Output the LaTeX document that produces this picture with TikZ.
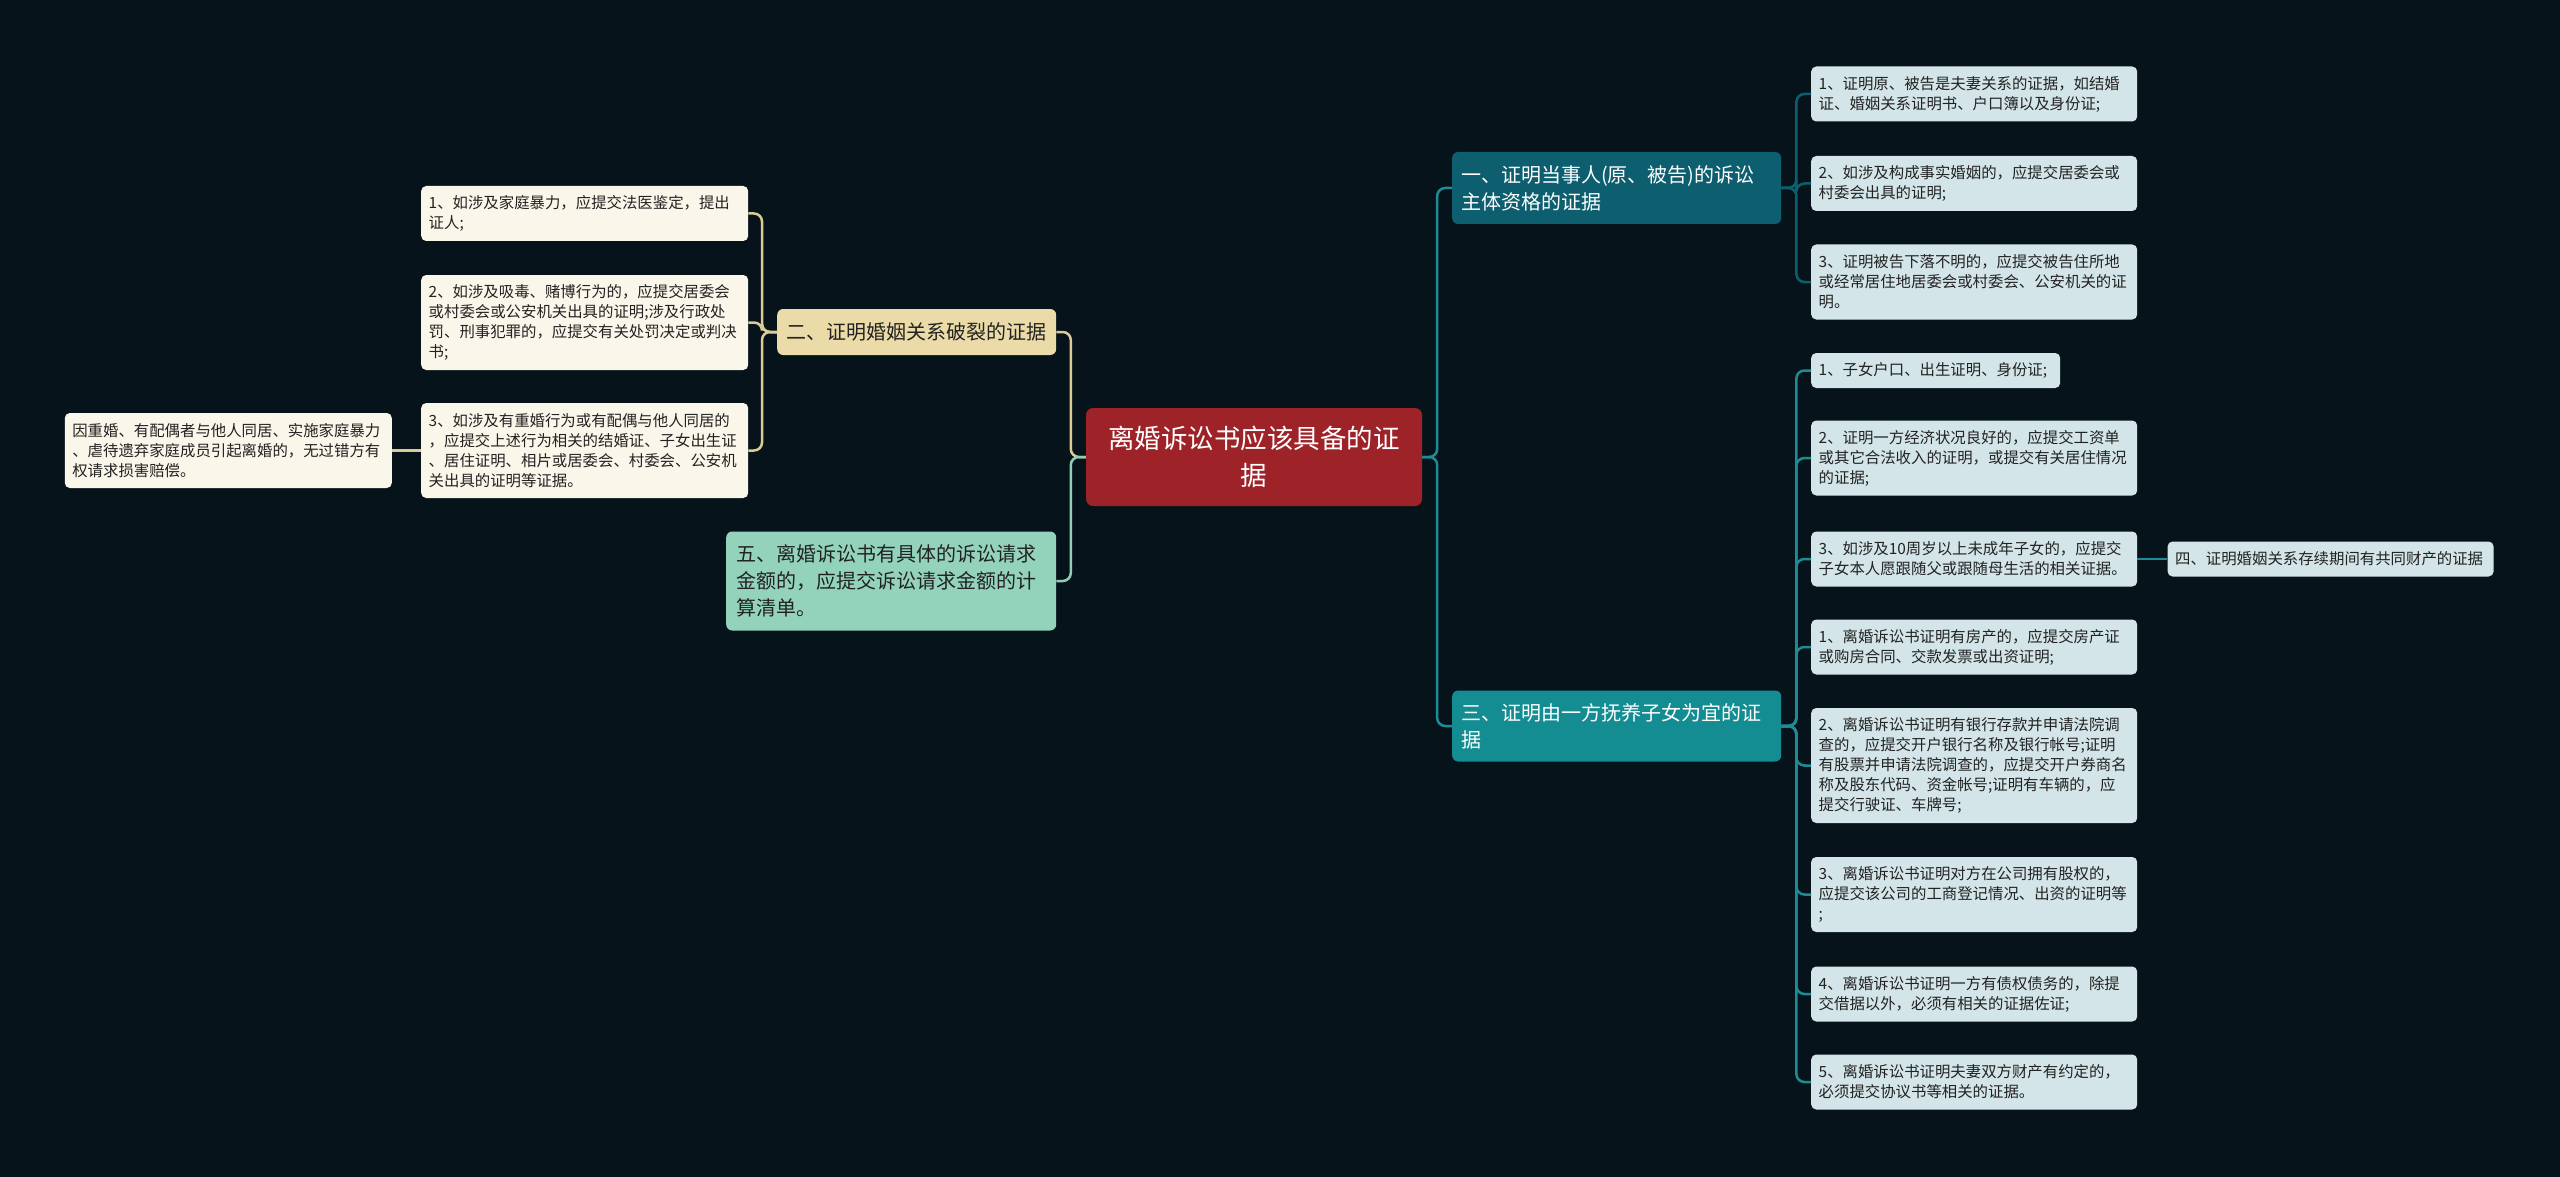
\documentclass[tikz,border=0pt]{standalone}
\usepackage{fontspec}
\setmainfont{Noto Sans CJK SC}
\usetikzlibrary{positioning}
\definecolor{dvbg}{HTML}{06131B}
\definecolor{dvred}{HTML}{9E2329}
\definecolor{dvdeep}{HTML}{0D5E6E}
\definecolor{dvteal}{HTML}{148D92}
\definecolor{dvline}{HTML}{1E8C95}
\definecolor{dvsand}{HTML}{EBDBA8}
\definecolor{dvsandln}{HTML}{DCCB94}
\definecolor{dvmint}{HTML}{93D3BC}
\definecolor{dvmintln}{HTML}{8FCFB8}
\definecolor{dvcream}{HTML}{FBF6EA}
\definecolor{dvice}{HTML}{D3E5E8}
\definecolor{dvink}{HTML}{222222}

\begin{document}
\begin{tikzpicture}[x=1pt, y=-1pt,
    box/.style={rounded corners=5pt, inner xsep=7.5pt, inner ysep=0pt, align=left, text=dvink, anchor=west, font=\fontsize{15.4pt}{20pt}\selectfont},
    leaf/.style={box, fill=dvice, text width=311pt},
    cream/.style={box, fill=dvcream, text width=312pt},
    rows/.style={minimum height={#1*20pt+15pt}},
    topic/.style={rounded corners=6pt, inner xsep=9pt, inner ysep=0pt, align=left, anchor=west, font=\fontsize{20pt}{27pt}\selectfont},
    link/.style={line width=2.5pt, rounded corners=8pt},
    toR/.style={to path={-- ++(15,0) |- (\tikztotarget)}},
    toL/.style={to path={-- ++(-15,0) |- (\tikztotarget)}}]
  \fill[dvbg] (0,0) rectangle (2560,1177);
  \useasboundingbox (0,0) rectangle (2560,1177);

  \node[fill=dvred, text=white, rounded corners=7pt, minimum width=336pt, minimum height=98pt, align=center, font=\fontsize{26.5pt}{37pt}\selectfont] (root) at (1254,457) {离婚诉讼书应该具备的证\\据};

  \node[topic, fill=dvdeep, text=white, text width=311pt, minimum height=72pt] (t1) at (1452,188) {一、证明当事人(原、被告)的诉讼\\主体资格的证据};
  \node[topic, fill=dvteal, text=white, text width=311pt, minimum height=71pt] (t3) at (1452,726) {三、证明由一方抚养子女为宜的证\\据};
  \node[topic, fill=dvsand, text=dvink, text width=261pt, minimum height=46pt] (t2) at (777,332) {二、证明婚姻关系破裂的证据};
  \node[topic, fill=dvmint, text=dvink, inner xsep=10pt, text width=310pt, minimum height=99pt] (t5) at (726,581) {五、离婚诉讼书有具体的诉讼请求\\金额的，应提交诉讼请求金额的计\\算清单。};

  \node[cream, rows=2] (c1) at (421,213.5) {1、如涉及家庭暴力，应提交法医鉴定，提出\\证人;};
  \node[cream, rows=4] (c2) at (421,322.5) {2、如涉及吸毒、赌博行为的，应提交居委会\\或村委会或公安机关出具的证明;涉及行政处\\罚、刑事犯罪的，应提交有关处罚决定或判决\\书;};
  \node[cream, rows=4] (c3) at (421,450.5) {3、如涉及有重婚行为或有配偶与他人同居的\\，应提交上述行为相关的结婚证、子女出生证\\、居住证明、相片或居委会、村委会、公安机\\关出具的证明等证据。};
  \node[cream, rows=3, anchor=east, left=29pt of c3] (cx) {因重婚、有配偶者与他人同居、实施家庭暴力\\、虐待遗弃家庭成员引起离婚的，无过错方有\\权请求损害赔偿。};

  \node[leaf, rows=2] (a1) at (1811,94) {1、证明原、被告是夫妻关系的证据，如结婚\\证、婚姻关系证明书、户口簿以及身份证;};
  \node[leaf, rows=2] (a2) at (1811,183.5) {2、如涉及构成事实婚姻的，应提交居委会或\\村委会出具的证明;};
  \node[leaf, rows=3] (a3) at (1811,282) {3、证明被告下落不明的，应提交被告住所地\\或经常居住地居委会或村委会、公安机关的证\\明。};

  \node[leaf, rows=1, text width=234pt] (b1) at (1811,370.5) {1、子女户口、出生证明、身份证;};
  \node[leaf, rows=3] (b2) at (1811,458) {2、证明一方经济状况良好的，应提交工资单\\或其它合法收入的证明，或提交有关居住情况\\的证据;};
  \node[leaf, rows=2] (b3) at (1811,559) {3、如涉及10周岁以上未成年子女的，应提交\\子女本人愿跟随父或跟随母生活的相关证据。};
  \node[leaf, rows=1, right=30pt of b3] (t4) {四、证明婚姻关系存续期间有共同财产的证据};
  \node[leaf, rows=2] (b4) at (1811,647) {1、离婚诉讼书证明有房产的，应提交房产证\\或购房合同、交款发票或出资证明;};
  \node[leaf, rows=5] (b5) at (1811,765.5) {2、离婚诉讼书证明有银行存款并申请法院调\\查的，应提交开户银行名称及银行帐号;证明\\有股票并申请法院调查的，应提交开户券商名\\称及股东代码、资金帐号;证明有车辆的，应\\提交行驶证、车牌号;};
  \node[leaf, rows=3] (b6) at (1811,894.5) {3、离婚诉讼书证明对方在公司拥有股权的，\\应提交该公司的工商登记情况、出资的证明等\\;};
  \node[leaf, rows=2] (b7) at (1811,994) {4、离婚诉讼书证明一方有债权债务的，除提\\交借据以外，必须有相关的证据佐证;};
  \node[leaf, rows=2] (b8) at (1811,1082) {5、离婚诉讼书证明夫妻双方财产有约定的，\\必须提交协议书等相关的证据。};

  \draw[link, dvline] (root.east) to[toR] (t1.west);
  \draw[link, dvline] (root.east) to[toR] (t3.west);
  \draw[link, dvsandln] (root.west) to[toL] (t2.east);
  \draw[link, dvmintln] (root.west) to[toL] (t5.east);
  \foreach \n in {a1,a2,a3}
    \draw[link, dvdeep] (t1.east) to[toR] (\n.west);
  \foreach \n in {b1,b2,b3,b4,b5,b6,b7,b8}
    \draw[link, dvline] (t3.east) to[toR] (\n.west);
  \draw[link, dvline] (b3.east) -- (t4.west);
  \foreach \n in {c1,c2,c3}
    \draw[link, dvsandln] (t2.west) to[toL] (\n.east);
  \draw[link, dvsandln] (c3.west) -- (cx.east);
\end{tikzpicture}
\end{document}
